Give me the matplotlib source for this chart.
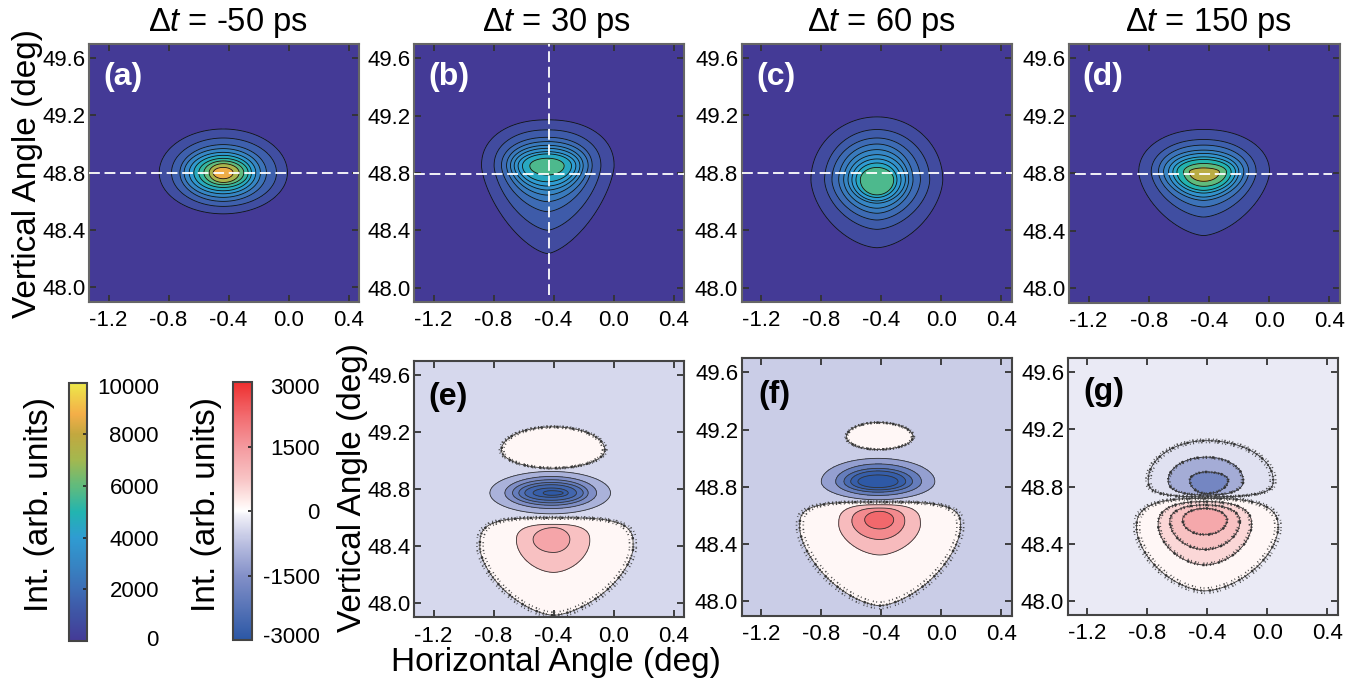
import numpy as np
import matplotlib
matplotlib.use("Agg")
import matplotlib.pyplot as plt
from matplotlib.colors import LinearSegmentedColormap, Normalize
from matplotlib.cm import ScalarMappable
from matplotlib.transforms import ScaledTranslation

plt.rcParams["font.family"] = ["Liberation Sans", "DejaVu Sans"]
plt.rcParams["mathtext.fontset"] = "custom"
plt.rcParams["mathtext.rm"] = "Liberation Sans"
plt.rcParams["mathtext.it"] = "Liberation Sans:italic"
plt.rcParams["axes.unicode_minus"] = False

W, H = 1359, 683

# Contour outlines: extents of each ring, in degrees, and
# the intensity of the band just inside it.
A_LEFT = [-0.862, -0.78, -0.724, -0.696, -0.662, -0.631, -0.598, -0.564, -0.529, -0.502]
A_RIGHT = [-0.007, -0.08, -0.147, -0.187, -0.218, -0.247, -0.269, -0.298, -0.329, -0.369]
A_TOP = [49.105, 49.042, 48.996, 48.968, 48.942, 48.921, 48.90, 48.882, 48.863, 48.837]
A_BOTTOM = [48.513, 48.565, 48.60, 48.628, 48.653, 48.674, 48.697, 48.716, 48.732, 48.758]
A_BANDS = [800, 1500, 2200, 3000, 3800, 4600, 5300, 6000, 7200, 8700]

B_LEFT = [-0.88, -0.796, -0.747, -0.713, -0.687, -0.662, -0.636, -0.607, -0.558]
B_RIGHT = [0.004, -0.084, -0.142, -0.169, -0.202, -0.224, -0.251, -0.28, -0.329]
B_TOP = [49.171, 49.101, 49.049, 49.019, 48.993, 48.972, 48.949, 48.933, 48.903]
B_BOTTOM = [48.238, 48.401, 48.53, 48.60, 48.646, 48.681, 48.709, 48.739, 48.786]
B_BANDS = [700, 1300, 1900, 2500, 3000, 3500, 4000, 4500, 5700]

C_LEFT = [-0.869, -0.778, -0.729, -0.684, -0.651, -0.622, -0.596, -0.569, -0.54]
C_RIGHT = [0.009, -0.078, -0.14, -0.189, -0.218, -0.24, -0.269, -0.296, -0.318]
C_TOP = [49.189, 49.101, 49.042, 49.0, 48.961, 48.926, 48.896, 48.868, 48.837]
C_BOTTOM = [48.278, 48.406, 48.471, 48.518, 48.553, 48.588, 48.604, 48.628, 48.646]
C_BANDS = [700, 1300, 1900, 2500, 3000, 3500, 4000, 4500, 5700]

D_LEFT = [-0.867, -0.784, -0.736, -0.702, -0.669, -0.64, -0.613, -0.569, -0.531]
D_RIGHT = [0.002, -0.087, -0.136, -0.169, -0.202, -0.224, -0.253, -0.284, -0.331]
D_TOP = [49.105, 49.035, 48.996, 48.961, 48.938, 48.914, 48.896, 48.868, 48.837]
D_BOTTOM = [48.366, 48.495, 48.565, 48.611, 48.634, 48.662, 48.681, 48.709, 48.744]
D_BANDS = [800, 1500, 2200, 2900, 3600, 4300, 5000, 6000, 7700]

E_UP_EXT = [[-0.747], [-0.058], [49.236], [48.946]]
E_UP_BANDS = [110]
E_BLUE_LEFT = [-0.824, -0.724, -0.673, -0.631, -0.591, -0.536, -0.469]
E_BLUE_RIGHT = [-0.02, -0.113, -0.169, -0.202, -0.247, -0.302, -0.336]
E_BLUE_TOP = [48.923, 48.888, 48.865, 48.846, 48.83, 48.807, 48.788]
E_BLUE_BOTTOM = [48.626, 48.663, 48.686, 48.703, 48.721, 48.742, 48.756]
E_BLUE_BANDS = [-960, -1550, -2000, -2300, -2600, -2800, -2950]
E_RED_LEFT = [-0.891, -0.647, -0.536]
E_RED_RIGHT = [0.131, -0.158, -0.291]
E_RED_TOP = [48.598, 48.552, 48.529]
E_RED_BOTTOM = [47.914, 48.215, 48.355]
E_RED_MIDY = [48.389, 48.436, 48.447]
E_RED_BANDS = [110, 800, 1300]

F_UP_EXT = [[-0.633], [-0.189], [49.249], [49.061]]
F_UP_BANDS = [110]
F_BLUE_LEFT = [-0.80, -0.704, -0.649, -0.604, -0.556]
F_BLUE_RIGHT = [-0.044, -0.133, -0.193, -0.238, -0.289]
F_BLUE_TOP = [48.999, 48.96, 48.929, 48.911, 48.883]
F_BLUE_BOTTOM = [48.71, 48.74, 48.763, 48.779, 48.795]
F_BLUE_BANDS = [-1250, -2000, -2500, -2800, -2950]
F_RED_LEFT = [-0.944, -0.684, -0.596, -0.511]
F_RED_RIGHT = [0.127, -0.14, -0.244, -0.318]
F_RED_TOP = [48.694, 48.675, 48.652, 48.629]
F_RED_BOTTOM = [47.97, 48.324, 48.432, 48.506]
F_RED_MIDY = [48.513, 48.536, 48.56, 48.571]
F_RED_BANDS = [110, 900, 1750, 2250]

G_BLUE_LEFT = [-0.793, -0.66, -0.516]
G_BLUE_RIGHT = [0.04, -0.16, -0.26]
G_BLUE_TOP = [49.121, 49.006, 48.902]
G_BLUE_BOTTOM = [48.728, 48.74, 48.751]
G_BLUE_BANDS = [-300, -1050, -1750]
G_RED_LEFT = [-0.871, -0.727, -0.649, -0.564]
G_RED_RIGHT = [0.073, -0.104, -0.182, -0.267]
G_RED_TOP = [48.717, 48.694, 48.671, 48.647]
G_RED_BOTTOM = [48.069, 48.25, 48.358, 48.462]
G_RED_MIDY = [48.509, 48.532, 48.555, 48.566]
G_RED_BANDS = [110, 500, 800, 1250]

BACKGROUND_DIFF = {"e": -420, "f": -560, "g": -170}
TITLES = ["-50", "30", "60", "150"]
X_TICKS = [-1.2, -0.8, -0.4, 0.0, 0.4]
Y_TICKS = [48.0, 48.4, 48.8, 49.2, 49.6]
CB1_TICKS = [0, 2000, 4000, 6000, 8000, 10000]
CB2_TICKS = [-3000, -1500, 0, 1500, 3000]

seq_cmap = LinearSegmentedColormap.from_list("seq", [
    (0.0, "#443A96"), (0.1, "#3F53A4"), (0.2, "#3D6EB6"), (0.3, "#3686C4"),
    (0.4, "#2F9CD2"), (0.5, "#22B4B0"), (0.6, "#60BB7D"), (0.7, "#A3B84F"),
    (0.8, "#C2A83F"), (0.88, "#F4AE48"), (1.0, "#EDE84A")])
div_cmap = LinearSegmentedColormap.from_list("div", [
    (0.0, "#2B57A5"), (0.25, "#8390C8"), (0.375, "#B9BEE0"), (0.483, "#F0F0F8"),
    (0.5, "#FFFFFF"), (0.533, "#FFF0EE"), (0.625, "#F8C4C5"), (0.75, "#F49A9F"),
    (0.875, "#F26A6E"), (1.0, "#EE2E2E")])
seq_norm = Normalize(0, 10000)
div_norm = Normalize(-3000, 3000)

SPECK_A = (0, (0.5, 0.8, 0.3, 1.7, 0.9, 0.6, 0.4, 1.1))
SPECK_B = (0, (0.5, 2.0, 0.8, 1.2, 0.4, 2.7, 0.6, 1.5))


def px_axes(left, right, top, bottom):
    return [left / W, 1 - bottom / H, (right - left) / W, (bottom - top) / H]


def ring(l, r, t, b, xc, yc, theta, e_up, e_lo):
    c, s = np.cos(theta), np.sin(theta)
    e = np.where(s >= 0, e_up, e_lo)
    cx = np.sign(c) * np.abs(c) ** (2 / e)
    sy = np.sign(s) * np.abs(s) ** (2 / e)
    x = xc + np.where(c >= 0, r - xc, xc - l) * cx
    y = yc + np.where(s >= 0, t - yc, yc - b) * sy
    return x, y


def lobe(ax, cmap, norm, left, right, top, bottom, bands, xc, yc, e_up=2.0, e_lo=2.0,
         line="#111111", lw=0.6, speckle=0):
    n = len(bands)
    xcs = np.broadcast_to(xc, n)
    ycs = np.broadcast_to(yc, n)
    mags = np.abs(np.array(bands, float))
    theta = np.linspace(0, 2 * np.pi, 241)
    # outer rings keep the panel's outline shape, inner rings relax towards an ellipse
    blend = np.linspace(0, 1, n) if n > 1 else np.zeros(1)
    rings = [ring(left[k], right[k], top[k], bottom[k], xcs[k], ycs[k], theta,
                  e_up + (2 - e_up) * blend[k], e_lo + (2 - e_lo) * blend[k])
             for k in range(n)]

    def scaled(k, f):
        return xcs[k] + f * (rings[k][0] - xcs[k]), ycs[k] + f * (rings[k][1] - ycs[k])

    rows, zs = [scaled(0, 1.07)], [mags[0] * 0.5]
    inner_levels = []
    for k in range(n):
        rows.append(rings[k])
        zs.append(mags[k])
        nxt = mags[k + 1] if k + 1 < n else mags[-1] * 1.1
        if k < speckle:
            rows.append(scaled(k, 0.955))
            zs.append(mags[k] + 0.25 * (nxt - mags[k]))
            inner_levels.append(zs[-1])
    rows.append(scaled(n - 1, 0.001))
    zs.append(mags[-1] * 1.1)

    X = np.array([r[0] for r in rows])
    Y = np.array([r[1] for r in rows])
    Z = np.repeat(np.array(zs)[:, None], theta.size, axis=1)
    levels = np.concatenate([mags, [mags[-1] * 1.2]])
    colors = [cmap(norm(v)) for v in bands]
    ax.contourf(X, Y, Z, levels=levels, colors=colors)
    ax.contour(X, Y, Z, levels=mags, colors=line, linewidths=lw)
    if speckle:
        ax.contour(X, Y, Z, levels=mags[:speckle], colors="#333333", linewidths=1.8,
                   linestyles=[SPECK_A])
        ax.contour(X, Y, Z, levels=[mags[0] * 0.72], colors="#444444", linewidths=1.2,
                   linestyles=[SPECK_B])
        ax.contour(X, Y, Z, levels=sorted(inner_levels), colors="#444444", linewidths=1.2,
                   linestyles=[SPECK_B])


def style(ax):
    ax.set_xlim(-1.33, 0.47)
    ax.set_ylim(47.9, 49.7)
    ax.set_xticks(X_TICKS, [f"{v:.1f}" for v in X_TICKS])
    ax.set_yticks(Y_TICKS, [f"{v:.1f}" for v in Y_TICKS])
    ax.tick_params(direction="in", length=5, width=1.3, color="#333333", top=True, right=True,
                   labelsize=16, pad=6)
    ax.tick_params(axis="y", pad=2.5)
    for s in ax.spines.values():
        s.set_linewidth(1.5)
        s.set_color("#444444")


def hline(ax, x0=-1.33, x1=0.47):
    ax.plot([x0, x1], [48.795, 48.795], color="white", lw=1.3, dashes=(6, 2.6), zorder=5)


fig = plt.figure(figsize=(W / 100, H / 100), dpi=100)

ax_a = fig.add_axes(px_axes(89, 359, 43.7, 301.7))
ax_b = fig.add_axes(px_axes(414, 684, 44, 302))
ax_c = fig.add_axes(px_axes(741.7, 1012, 43.5, 302))
ax_d = fig.add_axes(px_axes(1069, 1340, 44, 302.5))
ax_e = fig.add_axes(px_axes(414, 684, 360.7, 617.3))
ax_f = fig.add_axes(px_axes(741.7, 1012, 358, 615.7))
ax_g = fig.add_axes(px_axes(1067.7, 1337.7, 358, 615))

for ax in (ax_a, ax_b, ax_c, ax_d):
    ax.set_facecolor(seq_cmap(0.0))
    style(ax)
    for s in ax.spines.values():
        s.set_color("#666666")

lobe(ax_a, seq_cmap, seq_norm, A_LEFT, A_RIGHT, A_TOP, A_BOTTOM, A_BANDS, -0.435, 48.80)
lobe(ax_b, seq_cmap, seq_norm, B_LEFT, B_RIGHT, B_TOP, B_BOTTOM, B_BANDS, -0.44, 48.85, 2.2, 1.5)
lobe(ax_c, seq_cmap, seq_norm, C_LEFT, C_RIGHT, C_TOP, C_BOTTOM, C_BANDS, -0.429, 48.751, 2.0, 1.7)
lobe(ax_d, seq_cmap, seq_norm, D_LEFT, D_RIGHT, D_TOP, D_BOTTOM, D_BANDS, -0.436, 48.809, 2.1, 1.6)

hline(ax_a)
hline(ax_b)
ax_b.plot([-0.431, -0.431], [47.95, 49.7], color="white", lw=1.3, dashes=(6, 2.6), zorder=5)
hline(ax_c)
hline(ax_d, -1.29, 0.42)

for ax, key in ((ax_e, "e"), (ax_f, "f"), (ax_g, "g")):
    ax.set_facecolor(div_cmap(div_norm(BACKGROUND_DIFF[key])))
    style(ax)

line = "#333333"
lobe(ax_e, div_cmap, div_norm, *E_UP_EXT, E_UP_BANDS, -0.402, 49.074, line=line, speckle=1)
lobe(ax_e, div_cmap, div_norm, E_BLUE_LEFT, E_BLUE_RIGHT, E_BLUE_TOP, E_BLUE_BOTTOM, E_BLUE_BANDS,
     -0.413, 48.772, line=line)
lobe(ax_e, div_cmap, div_norm, E_RED_LEFT, E_RED_RIGHT, E_RED_TOP, E_RED_BOTTOM, E_RED_BANDS,
     -0.40, E_RED_MIDY, 3.5, 1.6, line=line, speckle=1)

lobe(ax_f, div_cmap, div_norm, *F_UP_EXT, F_UP_BANDS, -0.422, 49.149, line=line, speckle=1)
lobe(ax_f, div_cmap, div_norm, F_BLUE_LEFT, F_BLUE_RIGHT, F_BLUE_TOP, F_BLUE_BOTTOM, F_BLUE_BANDS,
     -0.422, 48.837, line=line)
lobe(ax_f, div_cmap, div_norm, F_RED_LEFT, F_RED_RIGHT, F_RED_TOP, F_RED_BOTTOM, F_RED_BANDS,
     -0.411, F_RED_MIDY, 3.5, 1.6, line=line, speckle=1)

lobe(ax_g, div_cmap, div_norm, G_BLUE_LEFT, G_BLUE_RIGHT, G_BLUE_TOP, G_BLUE_BOTTOM, G_BLUE_BANDS,
     -0.404, 48.844, 2.0, 3.0, line=line, speckle=3)
lobe(ax_g, div_cmap, div_norm, G_RED_LEFT, G_RED_RIGHT, G_RED_TOP, G_RED_BOTTOM, G_RED_BANDS,
     -0.416, G_RED_MIDY, 2.8, 1.7, line=line, speckle=4)

# Panel letters
for ax, txt, x, y, c in ((ax_a, "(a)", 0.052, 0.84, "white"), (ax_b, "(b)", 0.052, 0.84, "white"),
                         (ax_c, "(c)", 0.056, 0.84, "white"), (ax_d, "(d)", 0.048, 0.84, "white"),
                         (ax_e, "(e)", 0.052, 0.827, "black"), (ax_f, "(f)", 0.06, 0.827, "black"),
                         (ax_g, "(g)", 0.057, 0.836, "black")):
    ax.text(x, y, txt, transform=ax.transAxes, color=c, fontsize=23, fontweight="bold",
            ha="left", va="baseline", zorder=6)

# Titles
for cx, v in zip((228, 556, 881, 1208), TITLES):
    fig.text(cx / W, 1 - 31 / H, rf"$\Delta\mathit{{t}}$ = {v} ps", fontsize=23.5, ha="center", va="baseline")

# Axis labels
fig.text(28 / W, 1 - 173 / H, "Vertical Angle (deg)", rotation=90, fontsize=24, ha="center", va="center")
fig.text(353 / W, 1 - 487 / H, "Vertical Angle (deg)", rotation=90, fontsize=24, ha="center", va="center")
fig.text(556 / W, 1 - 662 / H, "Horizontal Angle (deg)", fontsize=24, ha="center", va="center")
fig.text(39.5 / W, 1 - 505 / H, "Int. (arb. units)", rotation=90, fontsize=24, ha="center", va="center")
fig.text(207 / W, 1 - 505 / H, "Int. (arb. units)", rotation=90, fontsize=24, ha="center", va="center")

# Colour bars
cax1 = fig.add_axes(px_axes(69.3, 87.3, 382.7, 640.7))
cb1 = fig.colorbar(ScalarMappable(seq_norm, seq_cmap), cax=cax1, ticks=CB1_TICKS)
cax2 = fig.add_axes(px_axes(233.3, 252.3, 382.3, 640.3))
cb2 = fig.colorbar(ScalarMappable(div_norm, div_cmap), cax=cax2, ticks=CB2_TICKS)
for cb, pad, shift_low, shift_high in ((cb1, 51.6, 2.0, -2.5), (cb2, 48.7, 3.5, -2.5)):
    cb.ax.tick_params(direction="in", length=3, width=1.2, color="#222222", labelsize=16, pad=pad)
    cb.outline.set_linewidth(1.5)
    cb.outline.set_edgecolor("#444444")
    labels = cb.ax.get_yticklabels()
    for lab in labels:
        lab.set_ha("right")
    labels[0].set_transform(labels[0].get_transform() + ScaledTranslation(0, shift_low / 72, fig.dpi_scale_trans))
    labels[-1].set_transform(labels[-1].get_transform() + ScaledTranslation(0, shift_high / 72, fig.dpi_scale_trans))

fig.savefig("out.png", dpi=100)
